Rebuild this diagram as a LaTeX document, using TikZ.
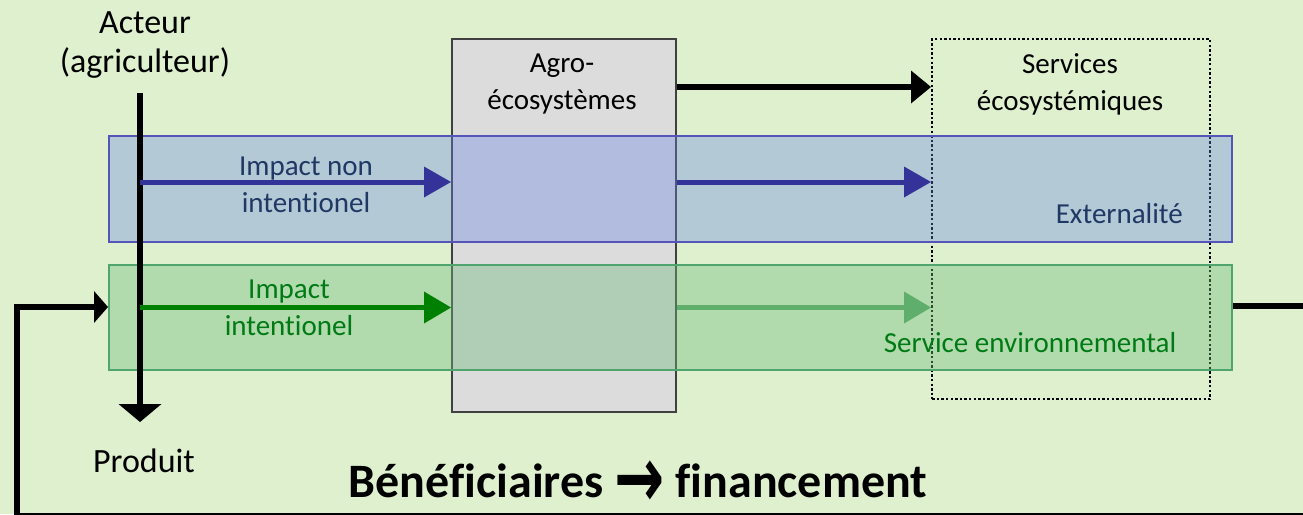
\documentclass[tikz,border=0pt]{standalone}
\usepackage{fontspec}
\usepackage{graphicx}
\setmainfont{Carlito}[Ligatures=NoCommon]
\newfontfamily\arrowfont{DejaVu Sans}
\usetikzlibrary{arrows.meta}
\definecolor{bg}{RGB}{222,240,206}
\definecolor{boxgray}{RGB}{220,220,220}
\definecolor{boxline}{RGB}{64,64,64}
\definecolor{bandblue}{RGB}{100,130,230}
\definecolor{bandblueline}{RGB}{85,85,185}
\definecolor{bandgreen}{RGB}{110,185,125}
\definecolor{bandgreenline}{RGB}{80,165,110}
\definecolor{arrblue}{RGB}{51,51,153}
\definecolor{arrgreen}{RGB}{0,128,0}
\definecolor{arrgreenlight}{RGB}{88,168,96}
\definecolor{txtblue}{RGB}{31,56,100}
\definecolor{txtgreen}{RGB}{0,122,20}
\begin{document}
\begin{tikzpicture}[x=1pt,y=-1pt,
  lbl/.style={inner sep=0pt, anchor=base, align=center},
  bigtxt/.style={font=\fontsize{34}{39}\selectfont},
  midtxt/.style={font=\fontsize{29}{37}\selectfont},
  band/.style={draw, line width=1.5pt, inner sep=0pt, anchor=north west, minimum width=1123pt},
  blkarrow/.style={line width=5.5pt, draw=black, -{Triangle[length=20pt,width=33pt,line width=0pt]}},
  vblkarrow/.style={line width=5.5pt, draw=black, -{Triangle[length=18pt,width=43pt,line width=0pt]}},
  fbarrow/.style={line width=5.5pt, draw=black, line join=miter, -{Triangle[length=14pt,width=32pt,line width=0pt]}},
  barrow/.style={line width=5pt, draw=arrblue, -{Triangle[length=27pt,width=31pt,line width=0pt]}},
  garrow/.style={line width=5.5pt, draw=arrgreen, -{Triangle[length=27pt,width=32pt,line width=0pt]}},
  glarrow/.style={line width=5.5pt, draw=arrgreenlight, -{Triangle[length=27pt,width=32pt,line width=0pt]}},
  dotbox/.style={draw=black, line width=2.4pt, dash pattern=on 2.4pt off 2.2pt, inner sep=0pt, anchor=north west}
]
\useasboundingbox (0,0) rectangle (1303,514);
\fill[bg] (0,0) rectangle (1303,514);
\clip (0,0) rectangle (1303,514);

% boxes
\node[draw=boxline, fill=boxgray, line width=1.5pt, minimum width=224pt, minimum height=373pt, inner sep=0pt, anchor=north west] (agro) at (451,38) {};
\node[dotbox, minimum width=278pt, minimum height=360pt] (serv) at (931,38) {};

% level coordinates
\coordinate (yk) at (0,87);
\coordinate (yb) at (0,182);
\coordinate (yg) at (0,307.5);
\coordinate (yr) at (0,306);
\coordinate (pA) at (140,93);
\coordinate (pB) at (140,422);
\coordinate (r1) at (1330,306);
\coordinate (r2) at (1330,516);
\coordinate (l1) at (17,516);
\coordinate (l2) at (17,307);

% light green arrow under green band
\draw[glarrow] (agro.east |- yg) -- (serv.west |- yg);

% bands
\node[band, fill=bandblue, fill opacity=0.35, draw=bandblueline, minimum height=106pt] (bband) at (108,135) {};
\node[band, fill=bandgreen, fill opacity=0.4, draw=bandgreenline, minimum height=105pt] (gband) at (108,264) {};

% actor arrow
\draw[vblkarrow] (pA) -- (pB);

% arrows
\draw[blkarrow] (agro.east |- yk) -- (serv.west |- yk);
\draw[barrow] (pA |- yb) -- (agro.west |- yb);
\draw[barrow] (agro.east |- yb) -- (serv.west |- yb);
\draw[garrow] (pA |- yg) -- (agro.west |- yg);
\draw[fbarrow] (gband.east |- yr) -- (r1) -- (r2) -- (l1) -- (l2) -- (gband.west |- l2);

% texts (anchor base = baseline of last line)
\node[lbl,bigtxt] (acteur) at (145,72) {Acteur\\(agriculteur)};
\node[lbl,bigtxt] (produit) at (144,472) {Produit};
\node[lbl,midtxt] (agrotxt) at (562,109) {Agro-\\écosystèmes};
\node[lbl,midtxt] (servtxt) at (1070,110) {Services\\écosystémiques};
\node[lbl,midtxt,text=txtblue] (inontxt) at (306,212) {Impact non\\intentionel};
\node[lbl,midtxt,text=txtgreen] (iinttxt) at (289,335) {Impact\\intentionel};
\node[lbl,midtxt,text=txtblue,anchor=base east] (exttxt) at (1183,223) {Externalité};
\node[lbl,midtxt,text=txtgreen] (senvtxt) at (1030,352) {Service environnemental};
\node[lbl,font=\fontsize{48}{56}\selectfont\bfseries] (benef) at (638,497) {Bénéficiaires \raisebox{-10pt}{\scalebox{1.25}[1.8]{\arrowfont\bfseries →}} financement};
\end{tikzpicture}
\end{document}
